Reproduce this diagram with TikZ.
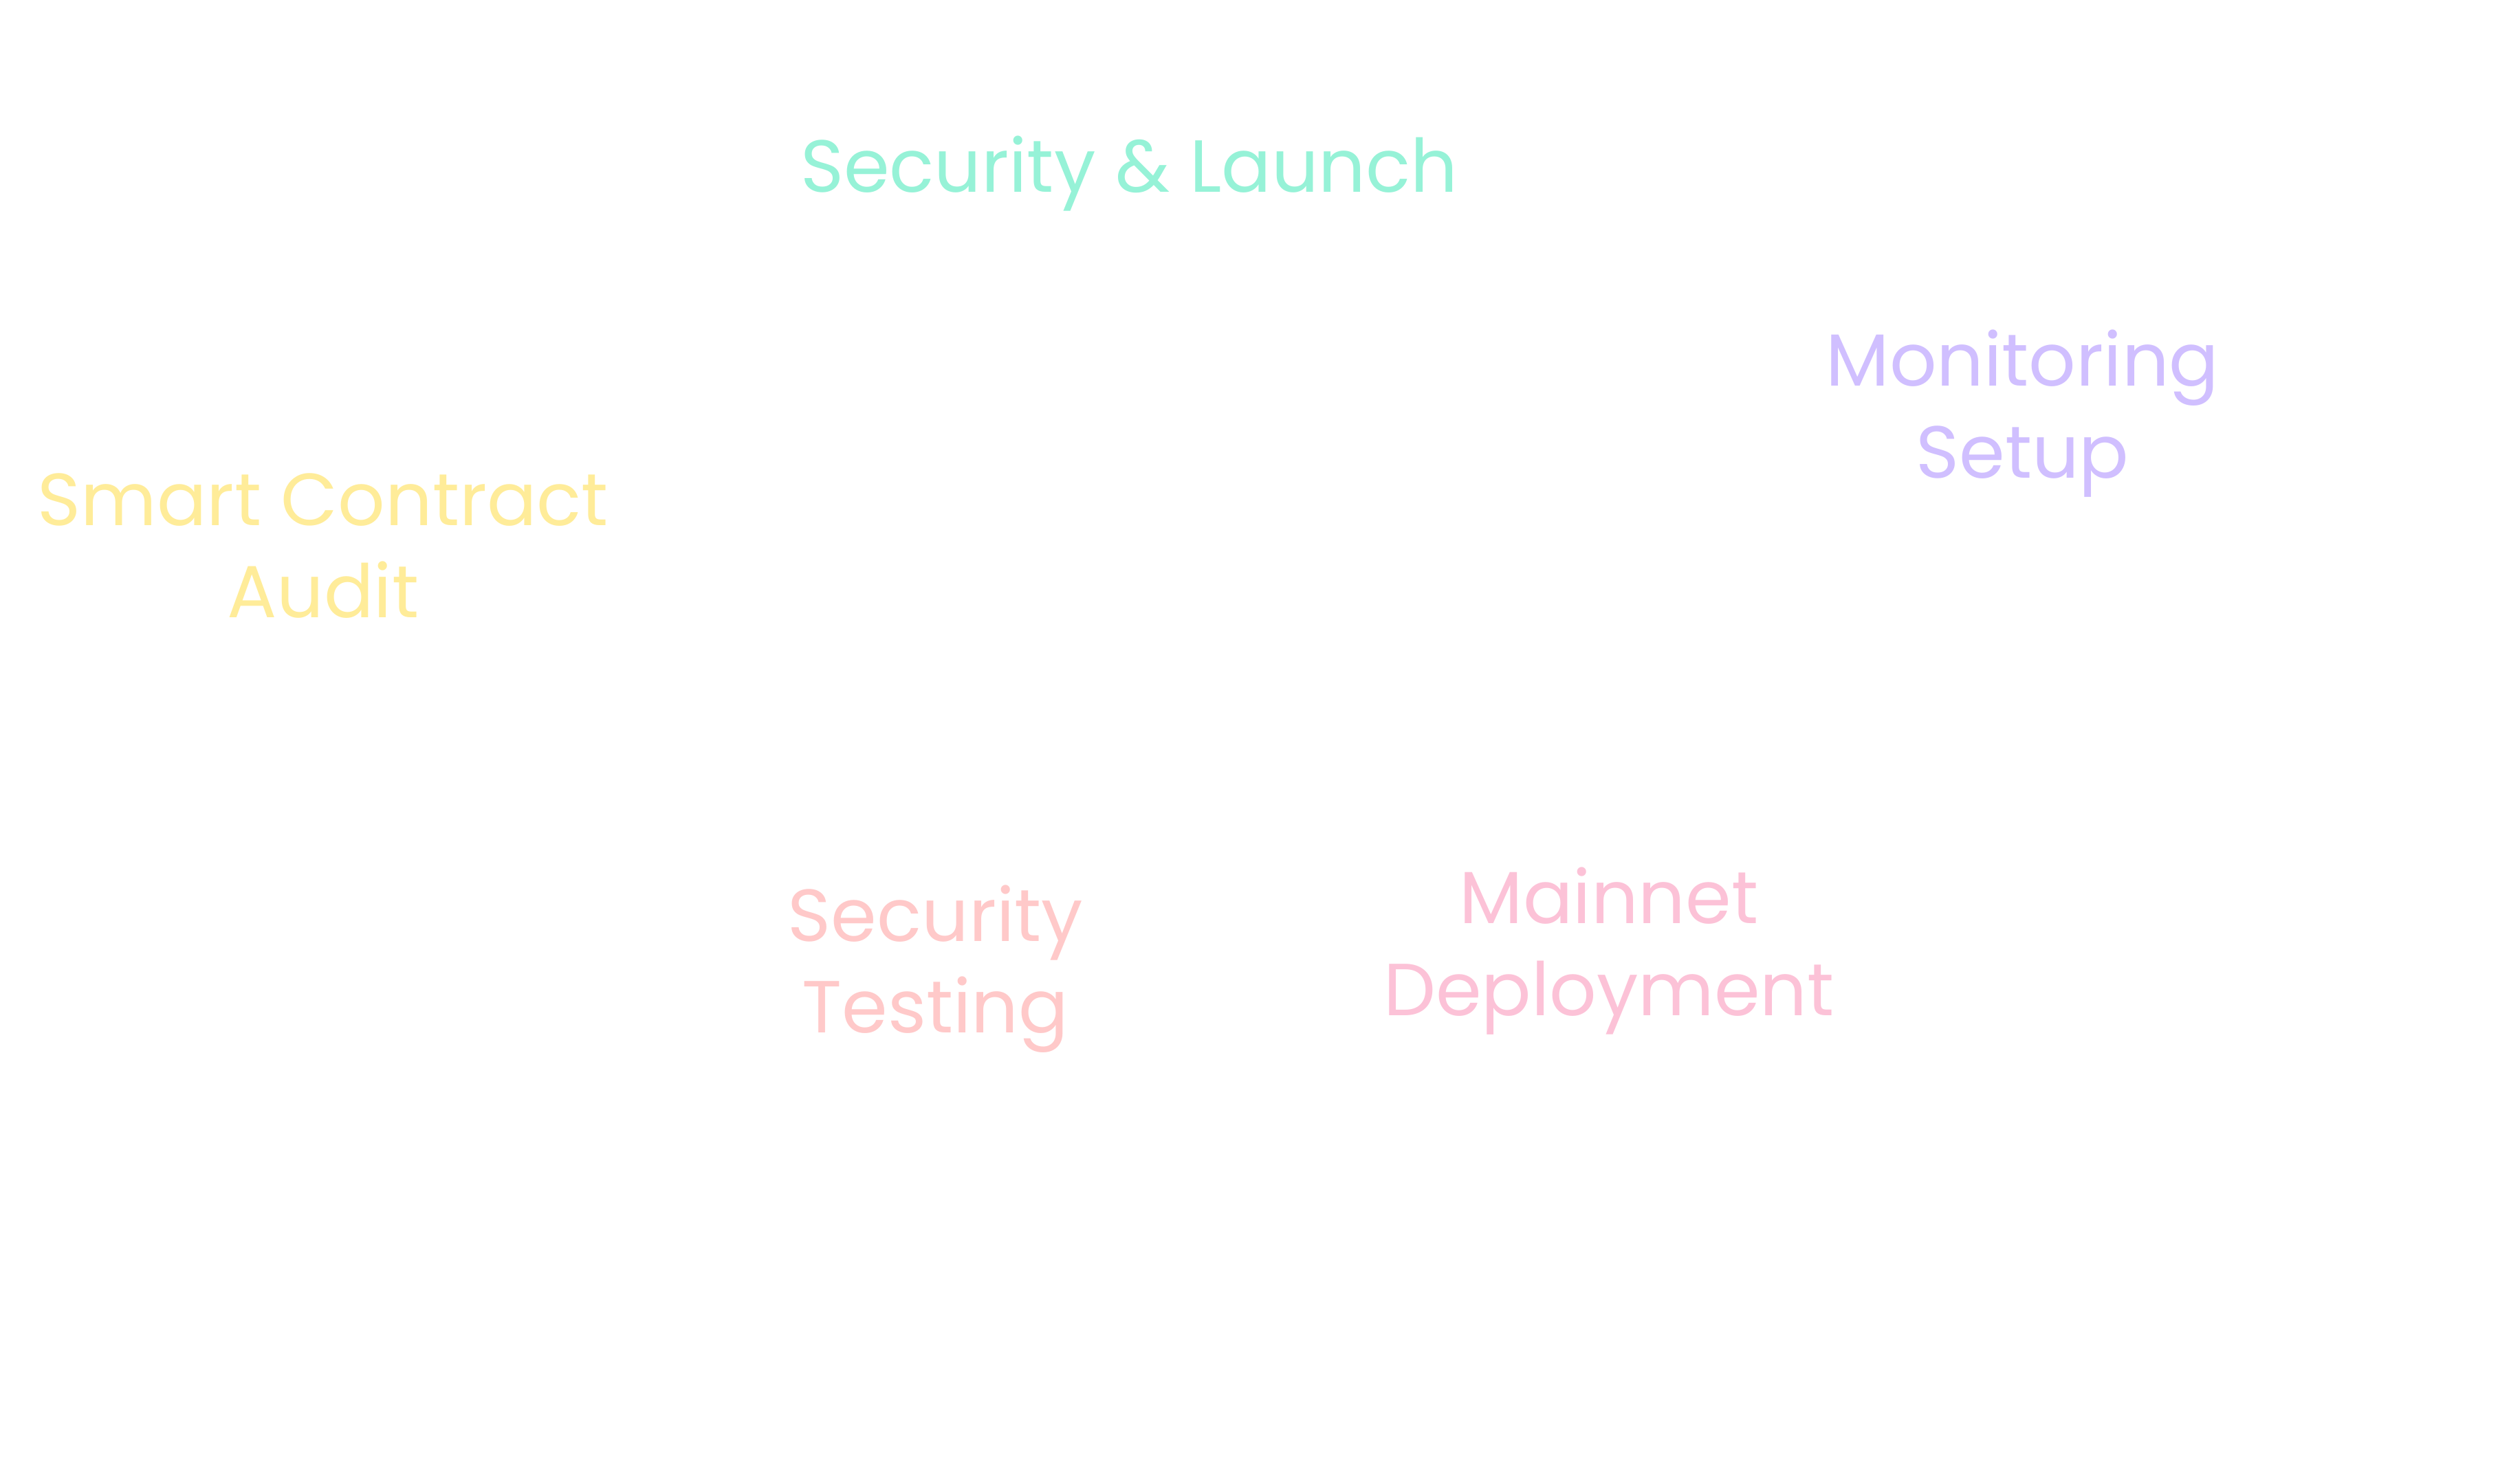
\documentclass[tikz,border=0pt]{standalone}
\usepackage{fontspec}
\usepackage{tikz}
\usepackage{xcolor}
\setmainfont{Poppins}

\definecolor{mint}{HTML}{96F2D7}
\definecolor{lilac}{HTML}{D0BFFF}
\definecolor{butter}{HTML}{FFEC99}
\definecolor{salmon}{HTML}{FFC9C9}
\definecolor{rose}{HTML}{FCC2D7}

\begin{document}
\begin{tikzpicture}[
  phasetext/.style={inner sep=0pt, align=center, font=\fontsize{13}{16.2}\selectfont}
]
  \useasboundingbox (0,0) rectangle (15.6,9.12);

  \node[phasetext, text=mint, anchor=base] (launch) at (6.99,7.93) {Security \& Launch};
  \node[phasetext, text=lilac] (monitor) at (12.52,6.56) {Monitoring\\Setup};
  \node[phasetext, text=butter] (audit) at (2.00,5.74) {Smart Contract\\Audit};
  \node[phasetext, text=salmon] (testing) at (5.79,3.12) {Security\\Testing};
  \node[phasetext, text=rose] (mainnet) at (9.96,3.23) {Mainnet\\Deployment};
\end{tikzpicture}
\end{document}
